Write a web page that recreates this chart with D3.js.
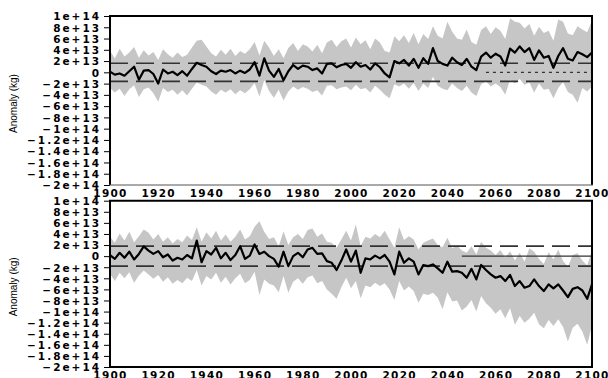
<!DOCTYPE html>
<html><head><meta charset="utf-8">
<script src="https://cdn.jsdelivr.net/npm/d3@7/dist/d3.min.js"></script>
<style>body{margin:0;background:#fff}svg{display:block}</style>
</head><body>
<svg id="c" width="608" height="378"></svg>
<script>
// values in units of 1e13 kg, years 1900..2100 step 2
const years = d3.range(1900, 2101, 2);
const topMean = [0.1,-0.4,-0.2,-0.6,0.2,1.0,-1.3,0.3,0.4,-0.3,-2.0,0.5,-0.2,0.1,-0.5,0.2,-0.6,0.6,1.7,1.3,1.0,0.2,-0.3,0.3,0.1,0.4,-0.2,0.3,-0.1,0.5,1.8,-0.6,2.5,0.3,-0.8,0.6,-1.4,0.2,1.3,0.6,1.2,1.0,0.4,0.7,-0.2,1.5,1.6,0.9,1.3,1.5,0.8,1.8,1.0,1.3,0.5,1.6,0.9,-0.2,-0.9,2.0,1.6,2.2,1.2,2.4,0.8,2.5,1.5,4.3,2.0,1.5,1.2,2.6,1.8,1.3,2.4,1.0,0.4,2.8,3.5,2.6,3.3,2.8,1.2,4.2,3.5,4.6,3.6,4.3,2.2,3.9,2.6,2.9,0.8,2.9,4.3,2.4,2.1,3.6,3.2,2.7,3.5];
const topUpper = [3.8,2.5,4.2,2.8,3.5,4.5,2.6,3.9,3.0,3.6,2.2,4.1,3.2,2.6,3.5,2.7,3.1,4.4,5.6,5.8,4.6,3.4,2.8,4.0,3.1,4.2,2.9,3.8,3.3,4.1,5.4,3.0,5.6,4.4,2.9,4.1,2.5,4.3,5.2,3.8,5.0,4.6,3.7,4.9,3.4,5.3,5.8,4.5,5.5,6.0,4.4,6.2,5.0,5.7,4.1,6.0,5.3,3.8,3.5,6.4,5.5,6.6,5.2,7.0,5.0,6.8,5.9,8.2,6.5,6.0,9.0,7.2,6.0,5.8,7.6,5.4,4.9,7.5,8.2,6.8,8.0,7.4,5.9,9.6,9.0,8.8,7.8,8.6,6.5,8.1,7.0,7.4,5.6,9.4,9.0,6.9,6.6,8.2,7.6,7.1,9.2];
const topLower = [-2.8,-3.6,-2.9,-4.2,-3.0,-2.3,-4.4,-3.0,-2.7,-3.7,-5.2,-2.8,-3.5,-3.1,-4.0,-3.2,-4.1,-2.9,-1.8,-2.2,-2.5,-3.4,-4.0,-3.1,-3.6,-3.0,-3.9,-3.2,-3.7,-3.0,-1.9,-4.3,-1.4,-3.3,-4.5,-3.1,-5.0,-3.4,-2.5,-3.1,-2.6,-2.9,-3.5,-3.2,-4.1,-2.4,-2.3,-3.0,-2.7,-2.5,-3.2,-2.2,-3.0,-2.8,-3.6,-2.4,-3.1,-4.0,-4.6,-2.1,-2.5,-2.0,-2.9,-1.9,-3.3,-2.0,-2.8,-0.8,-2.4,-2.9,-3.2,-2.0,-2.8,-3.3,-2.4,-3.6,-4.2,-2.1,-1.6,-2.5,-2.0,-2.6,-4.0,-1.3,-2.0,-1.2,-2.2,-1.8,-3.6,-2.0,-3.1,-2.9,-4.6,-2.8,-1.7,-3.5,-4.0,-5.4,-2.8,-3.4,-2.5];
const botMean = [0.2,-0.5,0.6,-0.3,0.8,-0.6,0.4,1.75,1.0,0.4,0.9,-0.2,0.3,-0.8,-0.3,-0.6,0.2,-0.4,2.8,-1.1,0.9,0.3,1.5,-0.4,0.6,-0.7,0.2,1.8,-0.5,0.1,2.1,0.4,0.8,0.0,-0.5,-1.9,0.8,-1.8,0.0,0.6,-0.2,1.2,1.5,0.4,0.5,-0.9,-1.2,-2.5,-0.8,1.2,-1.0,1.0,-3.0,-0.4,-0.6,0.1,-0.4,0.2,-1.0,-3.3,0.8,-1.2,-0.4,-1.0,-3.3,-1.6,-1.8,-1.5,-2.2,-3.0,-1.0,-2.8,-2.7,-3.0,-3.9,-2.3,-4.2,-1.6,-2.5,-3.3,-3.9,-3.6,-4.5,-3.4,-5.4,-4.5,-5.7,-5.4,-4.2,-5.4,-6.3,-5.1,-5.8,-5.1,-6.2,-7.4,-5.9,-5.6,-6.2,-7.7,-5.1];
const botUpper = [3.5,2.4,4.1,2.8,4.4,2.5,3.6,4.8,4.2,3.0,4.0,2.6,3.4,2.3,3.1,2.5,3.7,2.9,5.2,2.6,4.3,3.2,4.6,2.8,3.9,2.6,3.5,4.8,3.0,3.6,5.3,6.3,4.4,3.1,3.4,1.8,4.5,2.0,3.4,4.0,3.1,4.7,5.0,3.5,4.1,2.6,2.4,1.5,3.0,4.6,2.8,5.7,1.8,3.5,3.2,4.0,3.4,4.6,3.0,1.5,5.2,2.9,3.6,3.0,1.2,2.4,2.8,3.2,2.0,1.6,3.3,1.4,1.9,1.0,0.6,1.8,0.3,2.6,1.5,1.0,0.2,1.1,-0.3,0.9,-0.8,0.6,-1.0,1.4,0.8,-0.5,-1.4,0.7,-0.6,1.2,-0.9,-1.9,0.2,0.5,-0.8,-1.7,1.0];
const botLower = [-3.2,-4.5,-3.0,-4.0,-2.9,-4.8,-3.5,-2.6,-3.3,-4.1,-3.4,-4.6,-3.8,-5.0,-4.3,-4.9,-3.9,-4.5,-2.5,-5.3,-3.6,-4.2,-3.0,-4.8,-3.7,-5.1,-4.0,-3.2,-4.9,-4.3,-2.8,-7.0,-4.2,-5.0,-5.3,-6.5,-3.6,-6.6,-4.6,-4.0,-5.0,-3.8,-3.5,-4.9,-4.5,-6.0,-6.8,-7.7,-5.6,-3.9,-5.8,-4.5,-7.6,-5.3,-5.6,-4.8,-5.4,-4.9,-6.0,-7.9,-4.5,-6.2,-5.5,-6.3,-8.4,-6.8,-7.0,-6.6,-7.5,-9.6,-6.5,-8.2,-8.0,-9.8,-9.1,-7.9,-10.0,-7.2,-8.5,-9.3,-10.4,-9.6,-11.2,-9.4,-12.4,-10.8,-12.0,-11.3,-10.2,-12.3,-13.0,-11.5,-12.6,-11.4,-12.8,-15.4,-12.9,-12.2,-13.6,-16.0,-12.5];
const yTickVals = [10,8,6,4,2,0,-2,-4,-6,-8,-10,-12,-14,-16,-18,-20];
const yTickLabels = ["1e+14","8e+13","6e+13","4e+13","2e+13","0","\u22122e+13","\u22124e+13","\u22126e+13","\u22128e+13","\u22121e+14","\u22121.2e+14","\u22121.4e+14","\u22121.6e+14","\u22121.8e+14","\u22122e+14"];
const xTickVals = [1900,1920,1940,1960,1980,2000,2020,2040,2060,2080,2100];
const thresholds = [1.6, 1.8];
const zeroStart = [2056, 2046];
const yLabel = "Anomaly (kg)";

const svg = d3.select("#c");
const x = d3.scaleLinear().domain([1900,2100]).range([110,592]);
const panels = [
  {mean: topMean, up: topUpper, lo: topLower, top: 16, bot: 185, thr: thresholds[0], z0: zeroStart[0], zdash: "3,4", bottomAxis: "thin"},
  {mean: botMean, up: botUpper, lo: botLower, top: 200.7, bot: 367, thr: thresholds[1], z0: zeroStart[1], zdash: null, bottomAxis: "thick"}
];
const lblFont = "DejaVu Sans, sans-serif";

panels.forEach((p, i) => {
  const y = d3.scaleLinear().domain([-20,10]).range([p.bot, p.top]);
  const g = svg.append("g");
  const cid = "clip" + i;
  svg.append("clipPath").attr("id", cid).append("rect")
    .attr("x", 110).attr("y", p.top).attr("width", 482).attr("height", p.bot - p.top);
  const plot = g.append("g").attr("clip-path", `url(#${cid})`);
  const data = years.map((yr, k) => ({yr, m: p.mean[k], u: p.up[k], l: p.lo[k]}));
  plot.append("path").datum(data)
    .attr("d", d3.area().x(d => x(d.yr)).y0(d => y(d.l)).y1(d => y(d.u)))
    .attr("fill", "#c6c6c6");
  [p.thr, -p.thr].forEach(t => {
    plot.append("line").attr("x1", x(1900)).attr("x2", x(2100))
      .attr("y1", y(t)).attr("y2", y(t))
      .attr("stroke", "#333").attr("stroke-width", 1.6).attr("stroke-dasharray", "18,8");
  });
  const zl = plot.append("line").attr("x1", x(p.z0)).attr("x2", x(2100))
    .attr("y1", y(0)).attr("y2", y(0)).attr("stroke", "#333").attr("stroke-width", 1.2);
  if (p.zdash) zl.attr("stroke-dasharray", p.zdash);
  plot.append("path").datum(data)
    .attr("d", d3.line().x(d => x(d.yr)).y(d => y(d.m)))
    .attr("fill", "none").attr("stroke", "#000").attr("stroke-width", 2.2).attr("stroke-linejoin", "round");

  const ya = d3.axisLeft(y).tickValues(yTickVals).tickSize(6).tickPadding(3)
    .tickFormat((d, k) => yTickLabels[k]);
  const yg = g.append("g").attr("transform", "translate(110,0)").call(ya);
  yg.select(".domain").remove();
  yg.selectAll(".tick line").attr("stroke", "#000").attr("stroke-width", 1);
  yg.selectAll(".tick text").attr("font-family", lblFont).attr("font-weight", "bold")
    .attr("font-size", 10.5).attr("letter-spacing", "2px").attr("fill", "#000").attr("dy", "0.36em");

  const xa = d3.axisBottom(x).tickValues(xTickVals).tickSize(0).tickPadding(5).tickFormat(d3.format("d"));
  const xg = g.append("g").attr("transform", `translate(0,${p.bot})`).call(xa);
  xg.select(".domain").remove();
  xg.selectAll(".tick text").attr("font-family", lblFont).attr("font-weight", "bold")
    .attr("font-size", 10.5).attr("letter-spacing", "1.3px").attr("fill", "#000").attr("dy", "0.71em");

  g.append("line").attr("x1", 109).attr("x2", 593).attr("y1", p.top).attr("y2", p.top).attr("stroke", "#000").attr("stroke-width", 2);
  g.append("line").attr("x1", 110).attr("x2", 110).attr("y1", p.top).attr("y2", p.bot).attr("stroke", "#000").attr("stroke-width", 2);
  g.append("line").attr("x1", 592).attr("x2", 592).attr("y1", p.top).attr("y2", p.bot).attr("stroke", "#000").attr("stroke-width", 2);
  g.append("line").attr("x1", 109).attr("x2", 593).attr("y1", p.bot).attr("y2", p.bot)
    .attr("stroke", p.bottomAxis === "thin" ? "#555" : "#000").attr("stroke-width", p.bottomAxis === "thin" ? 1 : 2);

  const cy = (p.top + p.bot) / 2 + 3;
  g.append("text").attr("transform", `translate(17,${cy}) rotate(-90)`)
    .attr("text-anchor", "middle").attr("font-family", "Liberation Sans, Arial, sans-serif")
    .attr("font-size", 10).attr("fill", "#000").text(yLabel);
});
</script>
</body></html>
